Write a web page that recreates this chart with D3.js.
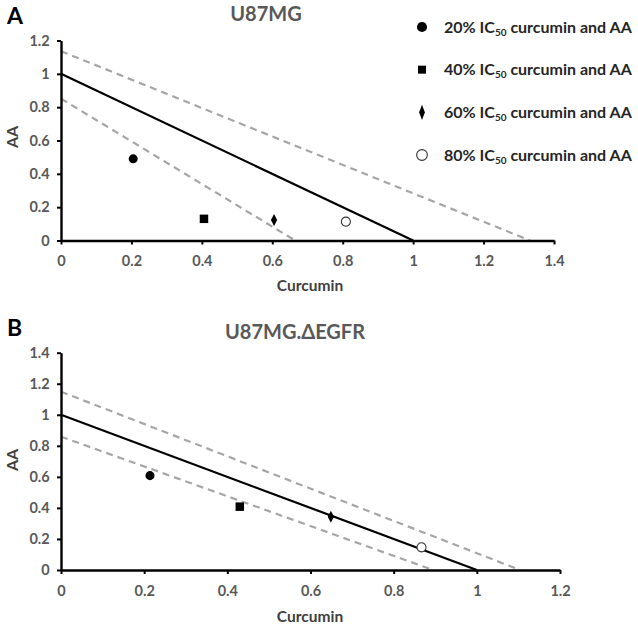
<!DOCTYPE html>
<html><head><meta charset="utf-8">
<script src="https://cdn.jsdelivr.net/npm/d3@7"></script>
<style>body{margin:0;background:#fff}svg{display:block}text{font-family:Lato,"Open Sans",sans-serif;font-weight:700}</style>
</head><body><svg id="c" width="638" height="627"></svg>
<script>
// Data
const seriesNames = ["20% IC50 curcumin and AA","40% IC50 curcumin and AA","60% IC50 curcumin and AA","80% IC50 curcumin and AA"];
const symbols = ["circle","square","diamond","open"];
const curcuminA = [0.205, 0.406, 0.605, 0.809];
const aaA = [0.49, 0.13, 0.123, 0.113];
const curcuminB = [0.214, 0.430, 0.649, 0.867];
const aaB = [0.608, 0.408, 0.343, 0.146];
const additiveLine = [[0,1],[1,0]];
const upperA = [[0,1.136],[1.332,0]];
const lowerA = [[0,0.851],[0.665,0]];
const upperB = [[0,1.149],[1.104,0]];
const lowerB = [[0,0.859],[0.895,0]];
const xTicksA = [0,0.2,0.4,0.6,0.8,1,1.2,1.4];
const yTicksA = [0,0.2,0.4,0.6,0.8,1,1.2];
const xTicksB = [0,0.2,0.4,0.6,0.8,1,1.2];
const yTicksB = [0,0.2,0.4,0.6,0.8,1,1.2,1.4];

const svg = d3.select("#c");
const fmt = d => d3.format("")(+d.toFixed(1));

function panel(cfg){
  const g = svg.append("g");
  const x = d3.scaleLinear().domain([0, cfg.xMax]).range([61, cfg.xRight]);
  const y = d3.scaleLinear().domain([0, cfg.yMax]).range([cfg.yBottom, cfg.yTop]);
  const line = d3.line().x(d=>x(d[0])).y(d=>y(d[1]));
  g.append("path").attr("d", line(cfg.upper)).attr("fill","none").attr("stroke","#a6a6a6").attr("stroke-width",2.2).attr("stroke-dasharray","7,5");
  g.append("path").attr("d", line(cfg.lower)).attr("fill","none").attr("stroke","#a6a6a6").attr("stroke-width",2.2).attr("stroke-dasharray","7,5");
  g.append("path").attr("d", line(additiveLine)).attr("fill","none").attr("stroke","#000").attr("stroke-width",2.2);
  const xa = g.append("g").attr("transform",`translate(0,${cfg.yBottom})`)
    .call(d3.axisBottom(x).tickValues(cfg.xTicks).tickFormat(fmt).tickSize(4).tickSizeOuter(0));
  const ya = g.append("g").attr("transform",`translate(61,0)`)
    .call(d3.axisLeft(y).tickValues(cfg.yTicks).tickFormat(fmt).tickSize(4).tickSizeOuter(0));
  [xa,ya].forEach(a=>{
    a.select(".domain").attr("stroke","#000").attr("stroke-width",2.4);
    a.selectAll(".tick line").attr("stroke","#000").attr("stroke-width",2);
    a.selectAll(".tick text").attr("fill","#595959").attr("font-size",14.5).attr("font-family","Lato").attr("font-weight",700);
  });
  xa.selectAll(".tick text").attr("dy","1.3em");
  ya.selectAll(".tick text").attr("dx","-0.3em");
  cfg.xs.forEach((cx,i)=>drawSym(g, symbols[i], x(cx), y(cfg.ys[i]), false));
  g.append("text").attr("x",7).attr("y",cfg.letterY).attr("font-size",23).attr("fill","#000").text(cfg.letter);
  g.append("text").attr("x",cfg.titleX).attr("y",cfg.titleY).attr("text-anchor","middle").attr("font-size",20).attr("fill","#595959").text(cfg.title);
  g.append("text").attr("transform",`translate(18,${cfg.aaY}) rotate(-90)`).attr("text-anchor","middle").attr("font-size",16).attr("fill","#404040").text("AA");
  g.append("text").attr("x",310).attr("y",cfg.curY).attr("text-anchor","middle").attr("font-size",15.5).attr("fill","#404040").text("Curcumin");
}

function drawSym(g, s, cx, cy, big){
  if(s==="circle") g.append("path").attr("d", d3.symbol(d3.symbolCircle, big?80:64)()).attr("transform",`translate(${cx},${cy})`).attr("fill","#000");
  else if(s==="square") g.append("path").attr("d", d3.symbol(d3.symbolSquare, big?64:72)()).attr("transform",`translate(${cx},${cy})`).attr("fill","#000");
  else if(s==="diamond") g.append("path").attr("d", d3.symbol(d3.symbolDiamond, big?40:34)()).attr("transform",`translate(${cx},${cy}) scale(${big?0.85:1},${big?1.3:1.1})`).attr("fill","#000");
  else g.append("path").attr("d", d3.symbol(d3.symbolCircle, big?90:64)()).attr("transform",`translate(${cx},${cy})`).attr("fill","#fff").attr("stroke","#333").attr("stroke-width",1.1);
}

panel({xMax:1.4, xRight:554, yMax:1.2, yBottom:240.5, yTop:40.5, xTicks:xTicksA, yTicks:yTicksA,
  upper:upperA, lower:lowerA, xs:curcuminA, ys:aaA, letter:"A", letterY:24, title:"U87MG", titleX:266, titleY:21, aaY:137, curY:291});
panel({xMax:1.2, xRight:560, yMax:1.4, yBottom:570, yTop:352.7, xTicks:xTicksB, yTicks:yTicksB,
  upper:upperB, lower:lowerB, xs:curcuminB, ys:aaB, letter:"B", letterY:336, title:"U87MG.ΔEGFR", titleX:295, titleY:339, aaY:460, curY:622});

const leg = svg.append("g");
const rowY = d3.scalePoint().domain(d3.range(seriesNames.length)).range([27,155]);
seriesNames.forEach((n,i)=>{
  drawSym(leg, symbols[i], 422, rowY(i), true);
  const parts = n.split("IC50");
  const t = leg.append("text").attr("x",444).attr("y",rowY(i)+5.5).attr("font-size",16).attr("fill","#262626");
  t.append("tspan").text(parts[0]+"IC");
  t.append("tspan").attr("font-size",10).attr("dy",3).text("50");
  t.append("tspan").attr("dy",-3).text(parts[1]);
});
</script></body></html>
